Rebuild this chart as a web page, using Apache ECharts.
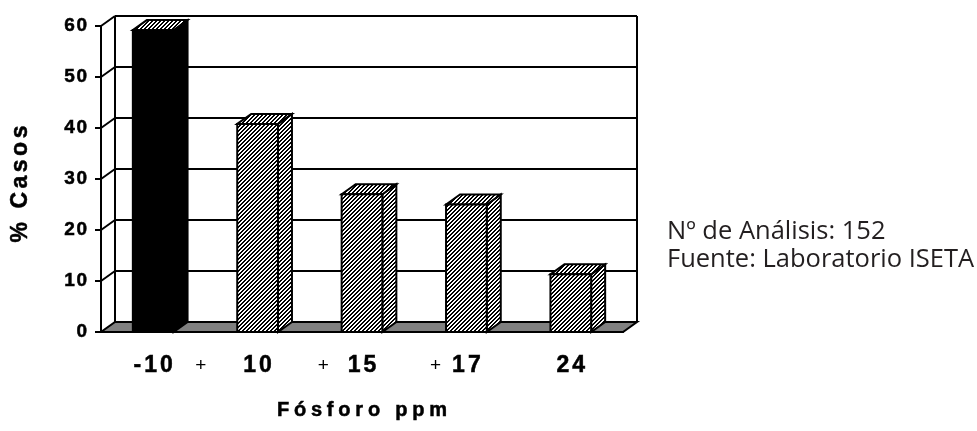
<!DOCTYPE html>
<html>
<head>
<meta charset="utf-8">
<script src="https://cdn.jsdelivr.net/npm/echarts@6/dist/echarts.min.js"></script>
<style>
  html, body { margin: 0; padding: 0; background: #fff; }
  #chart { width: 977px; height: 431px; }
</style>
</head>
<body>
<div id="chart"></div>
<script>
// Phosphorus classes (ppm) and share of samples in each class
const categories = ['-10', '+ 10', '+ 15', '+ 17', '24'];
const casos = [59.2, 40.8, 27.0, 25.0, 11.3];
const yTicks = [0, 10, 20, 30, 40, 50, 60];
const yTitle = '% Casos';
const xTitle = 'Fósforo ppm';
const notes = ['Nº de Análisis: 152', 'Fuente: Laboratorio ISETA'];

// depth of the pseudo-3D box (screen pixels)
const DX = 14, DY = -10;
const ARIAL = '"Liberation Sans", Arial, sans-serif';
const heavy = { textBorderColor: '#000', textBorderWidth: 0.5 };

function makeHatch() {
  const c = document.createElement('canvas');
  c.width = 4; c.height = 4;
  const ctx = c.getContext('2d');
  ctx.fillStyle = '#fff';
  ctx.fillRect(0, 0, 4, 4);
  ctx.fillStyle = '#000';
  for (let x = 0; x < 4; x++) {
    for (let y = 0; y < 4; y++) {
      if ((x + y) % 4 < 2) ctx.fillRect(x, y, 1, 1);
    }
  }
  return c;
}
const hatchFill = { image: makeHatch(), repeat: 'repeat' };
const edge = { stroke: '#000', lineWidth: 2, lineJoin: 'miter' };

// letter-spaced rich text: every character in style `c`, separated by style `g`
function spaced(text, c, g) {
  return String(text).split('').map(ch => '{' + c + '|' + ch + '}').join('{' + g + '| }');
}

// x labels: number centred on the category, "+" hanging to its left
const plusGap = [0, 37, 19, 11, 0];
const xRich = {
  n: Object.assign({ fontFamily: ARIAL, fontWeight: 'bold', fontSize: 23, color: '#000', lineHeight: 26 }, heavy),
  k: { width: 3, lineHeight: 26 },
  p: { fontFamily: ARIAL, fontWeight: 'normal', fontSize: 19, color: '#000', width: 11, align: 'center', lineHeight: 26 }
};
plusGap.forEach((g, i) => {
  xRich['w' + i] = { width: g, lineHeight: 26 };
  xRich['b' + i] = { width: g + 11, lineHeight: 26 };
});
function xLabel(label, i) {
  const m = label.match(/^\+\s*(.*)$/);
  if (!m) return spaced(label, 'n', 'k');
  return '{p|+}{w' + i + '| }' + spaced(m[1], 'n', 'k') + '{b' + i + '| }';
}

function renderWall(params, api) {
  const v = api.value(1);
  const cs = params.coordSys;
  const y = api.coord([0, v])[1];
  const y0 = api.coord([0, 0])[1];
  const left = cs.x, right = cs.x + cs.width;
  const children = [];
  if (v === 0) {
    children.push({
      type: 'polygon',
      shape: { points: [[left, y], [right, y], [right + DX, y + DY], [left + DX, y + DY]] },
      style: Object.assign({ fill: '#808080' }, edge)
    });
  } else {
    children.push({
      type: 'line',
      shape: { x1: left + DX, y1: y + DY, x2: right + DX, y2: y + DY },
      style: edge
    });
    children.push({
      type: 'line',
      shape: { x1: left, y1: y, x2: left + DX, y2: y + DY },
      style: edge
    });
  }
  if (v === yTicks[yTicks.length - 1]) {
    children.push({ type: 'line', shape: { x1: left + DX, y1: y + DY, x2: left + DX, y2: y0 + DY }, style: edge });
    children.push({ type: 'line', shape: { x1: right + DX, y1: y + DY, x2: right + DX, y2: y0 + DY }, style: edge });
  }
  return { type: 'group', children: children };
}

function renderBar(params, api) {
  const i = api.value(0), v = api.value(1);
  const top = api.coord([i, v]);
  const bot = api.coord([i, 0]);
  const w = api.size([1, 0])[0] * 0.39;
  const xl = top[0] - w / 2, xr = top[0] + w / 2, yt = top[1], yb = bot[1];
  const face = params.dataIndex === 0 ? '#000' : hatchFill;
  return {
    type: 'group',
    children: [
      { type: 'polygon', shape: { points: [[xr, yb], [xr, yt], [xr + DX, yt + DY], [xr + DX, yb + DY]] },
        style: Object.assign({ fill: face }, edge) },
      { type: 'polygon', shape: { points: [[xl, yt], [xl + DX, yt + DY], [xr + DX, yt + DY], [xr, yt]] },
        style: Object.assign({ fill: hatchFill }, edge) },
      { type: 'rect', shape: { x: xl, y: yt, width: w, height: yb - yt },
        style: Object.assign({ fill: face }, edge) }
    ]
  };
}

const chart = echarts.init(document.getElementById('chart'), null, { renderer: 'canvas' });
chart.setOption({
  animation: false,
  backgroundColor: '#fff',
  grid: { left: 101, right: 354, top: 26, bottom: 99, outerBoundsMode: 'none', containLabel: false },
  xAxis: {
    type: 'category',
    data: categories,
    boundaryGap: true,
    axisLine: { lineStyle: { color: '#000', width: 2 } },
    axisTick: { length: 7, lineStyle: { color: '#000', width: 2 } },
    axisLabel: { margin: 21, interval: 0, hideOverlap: false, formatter: xLabel, rich: xRich },
    splitLine: { show: false },
    name: spaced(xTitle, 'c', 'g'),
    nameLocation: 'middle',
    nameGap: 68,
    nameTextStyle: {
      rich: {
        c: Object.assign({ fontFamily: ARIAL, fontWeight: 'bold', fontSize: 20, color: '#000' }, heavy),
        g: { width: 4.8 }
      }
    }
  },
  yAxis: {
    type: 'value',
    min: 0, max: 60, interval: 10,
    axisLine: { show: true, lineStyle: { color: '#000', width: 2 } },
    axisTick: { show: true, length: 6, lineStyle: { color: '#000', width: 2 } },
    axisLabel: {
      margin: 14,
      formatter: v => spaced(v, 'd', 's'),
      rich: {
        d: Object.assign({ fontFamily: ARIAL, fontWeight: 'bold', fontSize: 19, color: '#000' }, heavy),
        s: { width: 1.5 }
      }
    },
    splitLine: { show: false },
    name: spaced(yTitle, 'c', 'g'),
    nameLocation: 'middle',
    nameGap: 69,
    nameTextStyle: {
      padding: [0, 10, 0, 0],
      rich: {
        c: Object.assign({ fontFamily: ARIAL, fontWeight: 'bold', fontSize: 23, color: '#000' }, heavy),
        g: { width: 3.5 }
      }
    }
  },
  series: [
    {
      type: 'custom',
      coordinateSystem: 'cartesian2d',
      renderItem: renderWall,
      data: yTicks.map(v => [0, v]),
      encode: { x: 0, y: 1 },
      z: 1,
      silent: true
    },
    {
      type: 'custom',
      coordinateSystem: 'cartesian2d',
      renderItem: renderBar,
      data: casos.map((v, i) => [i, v]),
      encode: { x: 0, y: 1 },
      z: 3,
      silent: true
    }
  ],
  graphic: notes.map((t, i) => ({
    type: 'text',
    left: 667,
    top: 219 + i * 28,
    style: { text: t, fill: '#231f20', font: '25.5px "Open Sans", "Noto Sans", sans-serif' }
  }))
});
</script>
</body>
</html>
